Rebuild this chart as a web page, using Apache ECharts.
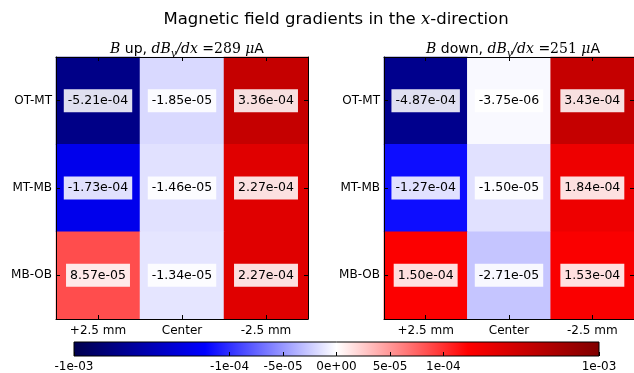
<!DOCTYPE html>
<html><head><meta charset="utf-8">
<script src="https://cdn.jsdelivr.net/npm/echarts@6/dist/echarts.min.js"></script>
<style>html,body{margin:0;padding:0;background:#fff}#c{width:634px;height:373px}</style>
</head><body><div id="c"></div>
<script>
var rows = ['OT-MT', 'MT-MB', 'MB-OB'];
var cols = ['+2.5 mm', 'Center', '-2.5 mm'];
var upValues = [
  [-5.21e-4, -1.85e-5, 3.36e-4],
  [-1.73e-4, -1.46e-5, 2.27e-4],
  [8.57e-5, -1.34e-5, 2.27e-4]
];
var downValues = [
  [-4.87e-4, -3.75e-6, 3.43e-4],
  [-1.27e-4, -1.50e-5, 1.84e-4],
  [1.50e-4, -2.71e-5, 1.53e-4]
];
var cbTicks = [-1e-3, -1e-4, -5e-5, 0, 5e-5, 1e-4, 1e-3];
var cbTickLabels = ['-1e-03', '-1e-04', '-5e-05', '0e+00', '5e-05', '1e-04', '1e-03'];
var linthresh = 1e-4, vmax = 1e-3;

var A = 1 / (1 - Math.exp(-1));
function T(v) {
  var a = Math.abs(v), s = v < 0 ? -1 : 1;
  if (a <= linthresh) return v / linthresh * A;
  return s * (A + Math.log(a / linthresh));
}
var U = T(vmax);
var seis = [[0,0,0.3],[0,0,1],[1,1,1],[1,0,0],[0.5,0,0]];
function seisAt(t) {
  var p = t * 4, i = Math.min(3, Math.floor(p)), f = p - i;
  var a = seis[i], b = seis[i + 1];
  return [0,1,2].map(function (k) { return a[k] + (b[k] - a[k]) * f; });
}
function colorOf(v) {
  var n = (T(v) + U) / (2 * U);
  var idx = Math.floor(n * 256); if (idx > 255) idx = 255; if (idx < 0) idx = 0;
  var c = seisAt(idx / 255);
  return 'rgb(' + c.map(function (x) { return Math.round(x * 255); }).join(',') + ')';
}
function fmt(v) {
  var s = v.toExponential(2);
  var m = s.split('e');
  var e = parseInt(m[1], 10);
  var es = (e < 0 ? '-' : '+') + (Math.abs(e) < 10 ? '0' : '') + Math.abs(e);
  return m[0] + 'e' + es;
}
function buildData(vals) {
  var d = [];
  for (var r = 0; r < rows.length; r++)
    for (var c = 0; c < cols.length; c++)
      d.push({ value: [c, r, vals[r][c]], itemStyle: { color: colorOf(vals[r][c]) } });
  return d;
}
var FONT = 'DejaVu Sans';
var tickStyle = { show: true, inside: true, length: 4, alignWithLabel: true, lineStyle: { color: '#000', width: 1 } };
var lineStyle = { show: true, lineStyle: { color: '#000', width: 1 } };
function axesFor(gi) {
  return {
    x: [
      { type: 'category', gridIndex: gi, data: cols, position: 'bottom', z: 5,
        axisLine: lineStyle, axisTick: tickStyle, splitLine: { show: false },
        axisLabel: { color: '#000', fontSize: 12, fontFamily: FONT, margin: 6 } },
      { type: 'category', gridIndex: gi, data: cols, position: 'top', z: 5,
        axisLine: lineStyle, axisTick: tickStyle, splitLine: { show: false }, axisLabel: { show: false } }
    ],
    y: [
      { type: 'category', gridIndex: gi, data: rows, position: 'left', inverse: true, z: 5,
        axisLine: lineStyle, axisTick: tickStyle, splitLine: { show: false },
        axisLabel: { color: '#000', fontSize: 12, fontFamily: FONT, margin: 4 } },
      { type: 'category', gridIndex: gi, data: rows, position: 'right', inverse: true, z: 5,
        axisLine: lineStyle, axisTick: tickStyle, splitLine: { show: false }, axisLabel: { show: false } }
    ]
  };
}
var a0 = axesFor(0), a1 = axesFor(1);
var cbX = { type: 'value', gridIndex: 2, min: -U, max: U, z: 5,
  axisLine: { show: false }, splitLine: { show: false },
  axisTick: { show: true, inside: true, length: 4, customValues: cbTicks.map(T), lineStyle: { color: '#000' } },
  axisLabel: { show: true, color: '#000', fontSize: 12, fontFamily: FONT, margin: 5,
    customValues: cbTicks.map(T),
    formatter: function (v) {
      var best = 0, bd = 1e9;
      for (var i = 0; i < cbTicks.length; i++) { var d = Math.abs(T(cbTicks[i]) - v); if (d < bd) { bd = d; best = i; } }
      return cbTickLabels[best];
    } } };
var cbY = { type: 'value', gridIndex: 2, min: 0, max: 1, show: false };

var labelOpt = { show: true, color: '#000', fontSize: 12.5, fontFamily: FONT,
  backgroundColor: 'rgba(255,255,255,0.88)', padding: [5, 4, 5, 4],
  formatter: function (p) { return fmt(p.value[2]); } };

var mathRich = {
  t: { fontFamily: FONT, fontSize: 14, color: '#000' },
  i: { fontFamily: 'DejaVu Serif', fontStyle: 'italic', fontSize: 14, color: '#000' },
  r: { fontFamily: 'DejaVu Serif', fontSize: 14, color: '#000' },
  s: { fontFamily: 'DejaVu Serif', fontStyle: 'italic', fontSize: 10, color: '#000', padding: [7, 0, 0, 0] }
};

var chart = echarts.init(document.getElementById('c'), null, { renderer: 'canvas' });
chart.setOption({
  animation: false,
  title: [
    { text: '{t|Magnetic field gradients in the }{i|x}{t|-direction}', left: 331, top: 6, textAlign: 'center',
      textStyle: { fontFamily: FONT, fontSize: 16.5, fontWeight: 'normal', color: '#000',
        rich: { t: { fontFamily: FONT, fontSize: 16.5, color: '#000' },
                i: { fontFamily: 'DejaVu Serif', fontStyle: 'italic', fontSize: 16.5, color: '#000' } } } },
    { text: '{i|B}{t| up, }{i|dB}{s|y}{i|/dx}{r| =289 }{i|μ}{t|A}', left: 182, top: 36, textAlign: 'center',
      textStyle: { fontFamily: FONT, fontSize: 14, fontWeight: 'normal', color: '#000', rich: mathRich } },
    { text: '{i|B}{t| down, }{i|dB}{s|y}{i|/dx}{r| =251 }{i|μ}{t|A}', left: 508, top: 36, textAlign: 'center',
      textStyle: { fontFamily: FONT, fontSize: 14, fontWeight: 'normal', color: '#000', rich: mathRich } }
  ],
  grid: [
    { left: 56, top: 57, width: 252, height: 262 },
    { left: 384, top: 57, width: 252, height: 262 },
    { left: 74, top: 342, width: 525, height: 15 }
  ],
  xAxis: a0.x.concat(a1.x).concat([cbX]),
  yAxis: a0.y.concat(a1.y).concat([cbY]),
  series: [
    { type: 'heatmap', xAxisIndex: 0, yAxisIndex: 0, data: buildData(upValues), label: labelOpt,
      emphasis: { disabled: true } },
    { type: 'heatmap', xAxisIndex: 2, yAxisIndex: 2, data: buildData(downValues), label: labelOpt,
      emphasis: { disabled: true } },
    { type: 'custom', xAxisIndex: 4, yAxisIndex: 4, data: [[T(cbTicks[0]), T(cbTicks[cbTicks.length - 1])]],
      renderItem: function (params, api) {
        var p0 = api.coord([api.value(0), 0]);
        var p1 = api.coord([api.value(1), 1]);
        var stops = seis.map(function (c, i) {
          return { offset: i / 4, color: 'rgb(' + c.map(function (x) { return Math.round(x * 255); }).join(',') + ')' };
        });
        return { type: 'rect', shape: { x: p0[0], y: p1[1], width: p1[0] - p0[0], height: p0[1] - p1[1] },
          style: { fill: new echarts.graphic.LinearGradient(0, 0, 1, 0, stops), stroke: '#000', lineWidth: 1 } };
      } }
  ]
});
</script></body></html>
